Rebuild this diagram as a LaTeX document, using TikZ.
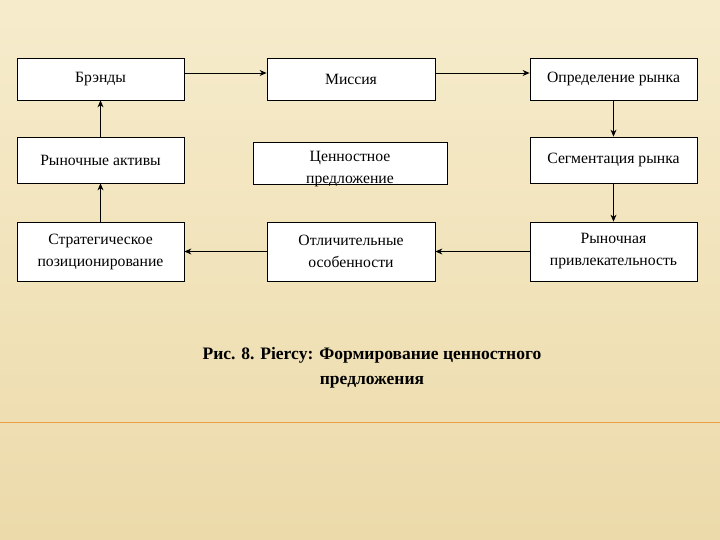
\documentclass[tikz,border=0pt]{standalone}
\usepackage{fontspec}
\setmainfont{Liberation Serif}
\usetikzlibrary{arrows.meta}
\definecolor{bgA}{RGB}{246,236,204}
\definecolor{bgB}{RGB}{236,218,170}
\definecolor{lineO}{RGB}{236,160,70}
\begin{document}
\begin{tikzpicture}[x=1pt,y=-1pt,
  box/.style={draw=black,fill=white,line width=0.8pt,inner sep=0pt,align=center,font=\fontsize{15.7}{22}\selectfont},
  arr/.style={-{Stealth[length=7pt,width=6pt]},line width=0.9pt}]
\shade[top color=bgA,bottom color=bgB] (0,0) rectangle (720,540);
\useasboundingbox (0,0) rectangle (720,540);
\draw[lineO,line width=1pt] (0,422) -- (720,422);
\node[box,minimum width=167,minimum height=42] (b) at (100.5,79) {Брэнды};
\node[box,minimum width=168,minimum height=42] (m) at (351,79) {Миссия};
\node[box,minimum width=167,minimum height=42] (o) at (613.5,79) {Определение рынка};
\node[box,minimum width=167,minimum height=46] (r) at (100.5,160) {Рыночные активы};
\node[box,minimum width=194,minimum height=42] (c) at (350,163) {};
\node[font=\fontsize{15.7}{22}\selectfont,align=center] (ct) at (350,169) {Ценностное\\предложение};
\node[box,minimum width=167,minimum height=46] (s) at (613.5,160) {Сегментация рынка};
\node[box,minimum width=167,minimum height=59] (st) at (100.5,251.5) {Стратегическое\\позиционирование};
\node[box,minimum width=168,minimum height=59] (ot) at (351,251.5) {Отличительные\\особенности};
\node[box,minimum width=167,minimum height=59] (rp) at (613.5,251.5) {Рыночная\\привлекательность};
\draw[arr] (b.east |- 0,73) -- (m.west |- 0,73);
\draw[arr] (m.east |- 0,73) -- (o.west |- 0,73);
\draw[arr] (o.south) -- (s.north);
\draw[arr] (s.south) -- (rp.north);
\draw[arr] (rp.west) -- (ot.east);
\draw[arr] (ot.west) -- (st.east);
\draw[arr] (st.north) -- (r.south);
\draw[arr] (r.north) -- (b.south);
\node[font=\bfseries\fontsize{17.5}{25}\selectfont,align=center] (cap) at (372,368) {Рис. 8. Piercy: Формирование ценностного\\предложения};
\end{tikzpicture}
\end{document}
